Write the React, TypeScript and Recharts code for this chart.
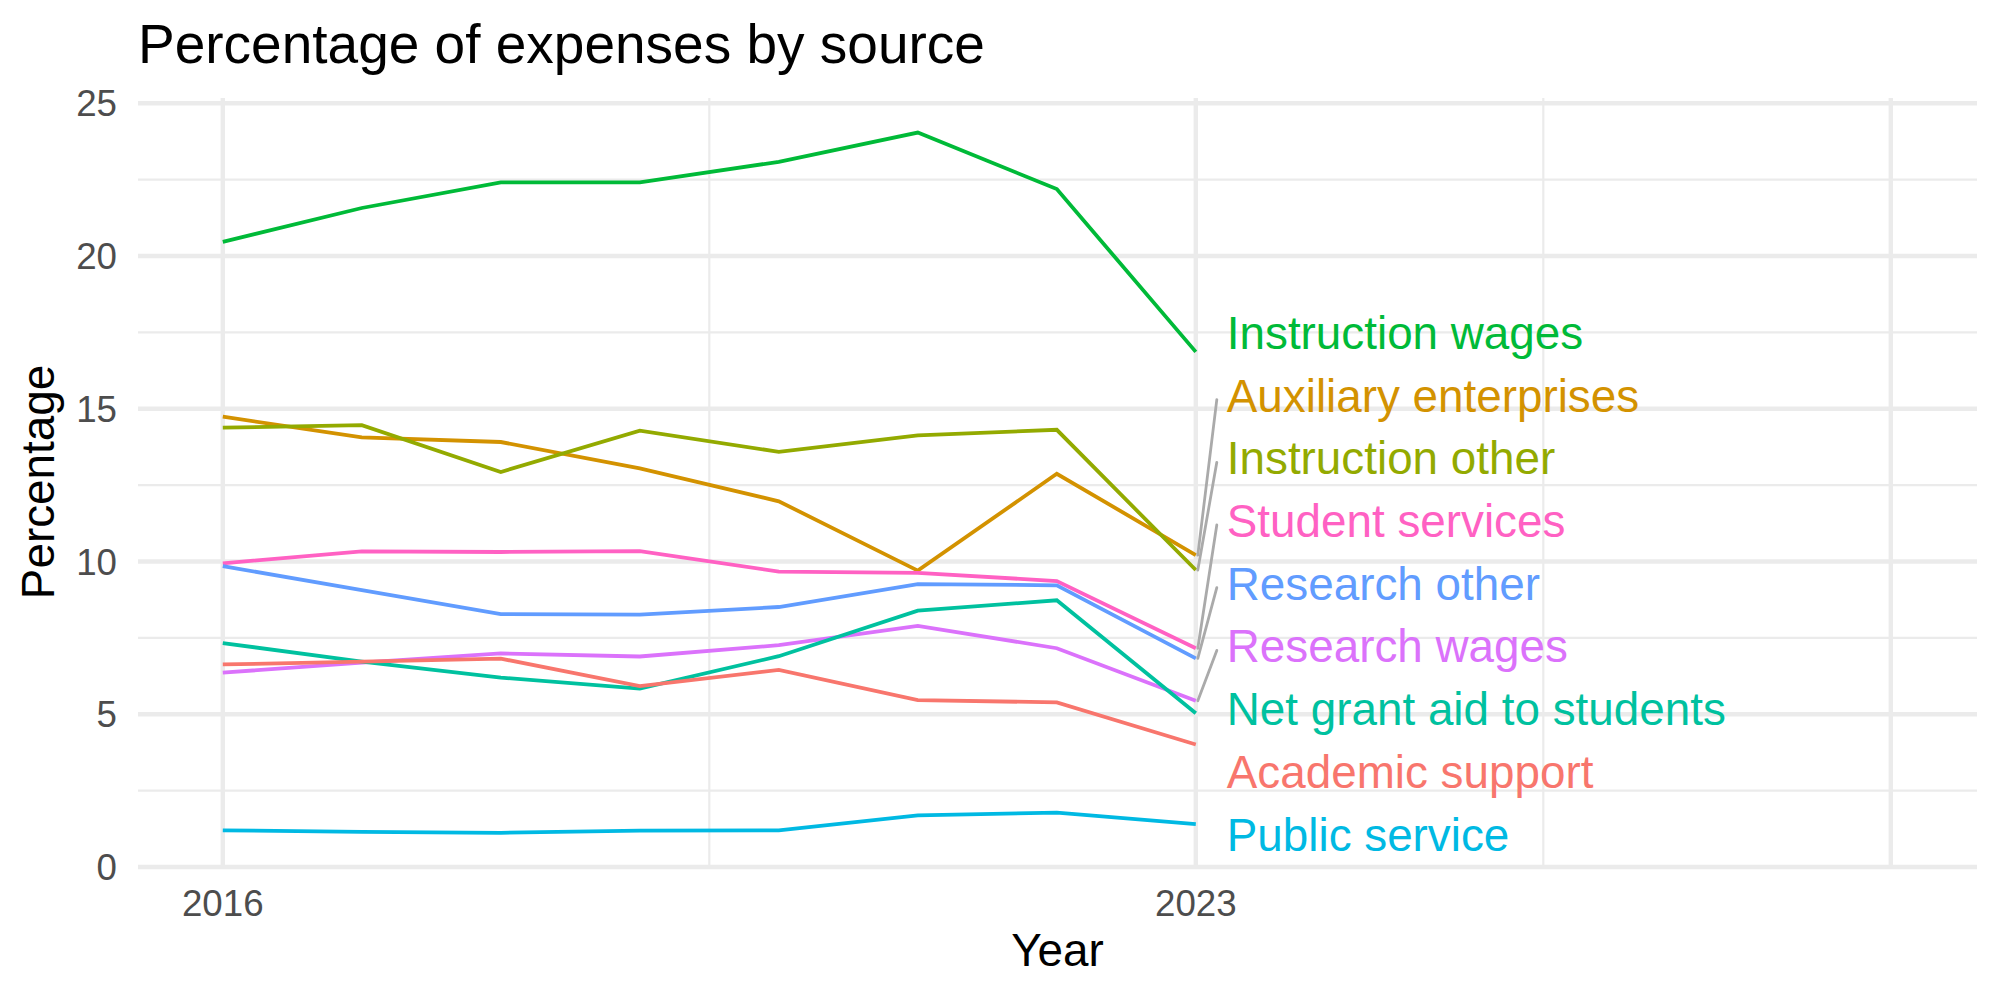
import React from 'react';
import { LineChart, Line, XAxis, YAxis, ReferenceLine, LabelList } from 'recharts';

const years = [2016, 2017, 2018, 2019, 2020, 2021, 2022, 2023];

const academicSupport = [6.63, 6.72, 6.82, 5.92, 6.45, 5.46, 5.39, 4.01];
const auxiliaryEnterprises = [14.74, 14.06, 13.91, 13.05, 11.97, 9.7, 12.87, 10.21];
const instructionOther = [14.38, 14.46, 12.93, 14.28, 13.59, 14.13, 14.31, 9.72];
const instructionWages = [20.46, 21.57, 22.41, 22.41, 23.08, 24.04, 22.19, 16.86];
const netGrantAid = [7.33, 6.72, 6.2, 5.84, 6.9, 8.39, 8.73, 5.03];
const publicService = [1.2, 1.15, 1.12, 1.19, 1.2, 1.69, 1.78, 1.4];
const researchOther = [9.85, 9.06, 8.28, 8.26, 8.51, 9.26, 9.22, 6.83];
const researchWages = [6.36, 6.69, 6.99, 6.89, 7.26, 7.89, 7.16, 5.44];
const studentServices = [9.94, 10.33, 10.31, 10.34, 9.67, 9.63, 9.36, 7.16];

const yTicks = [0, 5, 10, 15, 20, 25];
const yMinor = [2.5, 7.5, 12.5, 17.5, 22.5];
const xTicks = [2016, 2023];
const xMajor = [2016, 2023, 2028];
const xMinor = [2019.5, 2025.5];

// series in the order their end labels are stacked, top to bottom
const series = [
  { key: 'Instruction wages', values: instructionWages, color: '#00BA38' },
  { key: 'Auxiliary enterprises', values: auxiliaryEnterprises, color: '#D39200' },
  { key: 'Instruction other', values: instructionOther, color: '#93AA00' },
  { key: 'Student services', values: studentServices, color: '#FF61C3' },
  { key: 'Research other', values: researchOther, color: '#619CFF' },
  { key: 'Research wages', values: researchWages, color: '#DB72FB' },
  { key: 'Net grant aid to students', values: netGrantAid, color: '#00C19F' },
  { key: 'Academic support', values: academicSupport, color: '#F8766D' },
  { key: 'Public service', values: publicService, color: '#00B9E3' },
];

const data = years.map((year, i) => {
  const row: Record<string, number> = { year };
  series.forEach(s => { row[s.key] = s.values[i]; });
  return row;
});

const FONT = '"Liberation Sans", Arial, Helvetica, sans-serif';
const GRID = '#EBEBEB';
const LABEL_TOP = 348.9;
const LABEL_STEP = 62.7;

const endLabel = (order: number, color: string, text: string) => (props: any) => {
  const { x, y, index } = props;
  if (index !== years.length - 1) return null;
  const baseline = LABEL_TOP + order * LABEL_STEP;
  const center = baseline - 16;
  const needsSegment = Math.abs(center - y) > 45;
  return (
    <g>
      {needsSegment && (
        <line x1={x + 2} y1={y} x2={x + 21} y2={baseline - 12} stroke="#AAAAAA" strokeWidth={2.8} strokeLinecap="round" />
      )}
      <text x={x + 31} y={baseline} fill={color} fontSize={45.8} fontFamily={FONT}>{text}</text>
    </g>
  );
};

const App: React.FC = () => {
  return (
    <div style={{ position: 'absolute', left: 0, top: 0, width: 2000, height: 1000, background: '#fff' }}>
      <LineChart width={2000} height={1000} data={data} margin={{ top: 98, right: 23, bottom: 73, left: 58 }}>
        <XAxis
          dataKey="year"
          type="number"
          domain={[2015.39, 2028.62]}
          ticks={xTicks}
          interval={0}
          height={60}
          axisLine={false}
          tickLine={false}
          tickSize={0}
          tickMargin={23}
          tick={{ fontSize: 36.7, fill: '#4D4D4D', fontFamily: FONT }}
        />
        <YAxis
          type="number"
          domain={[0, 25.17]}
          ticks={yTicks}
          interval={0}
          width={80}
          axisLine={false}
          tickLine={false}
          tickSize={0}
          tickMargin={21}
          tick={{ fontSize: 36.7, fill: '#4D4D4D', fontFamily: FONT }}
        />
        {yMinor.map(v => <ReferenceLine key={`ym${v}`} y={v} stroke={GRID} strokeWidth={2.2} />)}
        {xMinor.map(v => <ReferenceLine key={`xm${v}`} x={v} stroke={GRID} strokeWidth={2.2} />)}
        {yTicks.map(v => <ReferenceLine key={`y${v}`} y={v} stroke={GRID} strokeWidth={4.4} />)}
        {xMajor.map(v => <ReferenceLine key={`x${v}`} x={v} stroke={GRID} strokeWidth={4.4} />)}
        {series.map((s, i) => (
          <Line
            key={s.key}
            dataKey={s.key}
            stroke={s.color}
            strokeWidth={3.8}
            dot={false}
            activeDot={false}
            isAnimationActive={false}
          >
            <LabelList dataKey={s.key} content={endLabel(i, s.color, s.key)} />
          </Line>
        ))}
      </LineChart>
      <svg width={2000} height={1000} style={{ position: 'absolute', left: 0, top: 0, pointerEvents: 'none' }}>
        <text x={138} y={63} fontSize={55} fontFamily={FONT} fill="#000">Percentage of expenses by source</text>
        <text x={1057.5} y={966} fontSize={45.8} fontFamily={FONT} fill="#000" textAnchor="middle">Year</text>
        <text transform="translate(53.5,482) rotate(-90)" fontSize={45.8} fontFamily={FONT} fill="#000" textAnchor="middle">Percentage</text>
      </svg>
    </div>
  );
};

export default App;
